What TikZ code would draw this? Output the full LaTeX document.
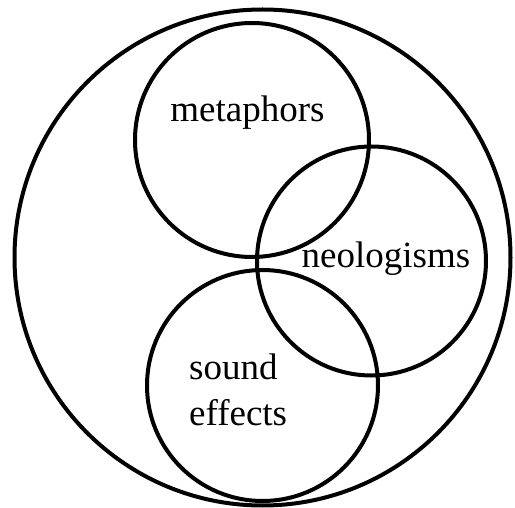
\documentclass[tikz,border=0pt]{standalone}
\usepackage{fontspec}
\setmainfont{Liberation Serif}
\begin{document}
\begin{tikzpicture}[x=1pt,y=-1pt,
  ring/.style={circle,draw=black,line width=4pt,inner sep=0pt},
  lbl/.style={font=\fontsize{37}{45}\selectfont,inner sep=0pt}]
\useasboundingbox (0,0) rectangle (515,508);
\node[ring,minimum size=496pt] (outer) at (262.5,257.5) {};
\node[ring,minimum size=234pt] (met) at (252,140) {};
\node[ring,minimum size=229pt] (neo) at (371.5,261) {};
\node[ring,minimum size=231pt] (snd) at (262.5,385.5) {};
\node[lbl,anchor=base] (tmet) at (247.5,122) {metaphors};
\node[lbl,anchor=base] (tneo) at (386,268) {neologisms};
\node[lbl,anchor=base west] (tsnd) at (189,380) {sound};
\node[lbl,anchor=base west] (teff) at (189,425) {effects};
\end{tikzpicture}
\end{document}
